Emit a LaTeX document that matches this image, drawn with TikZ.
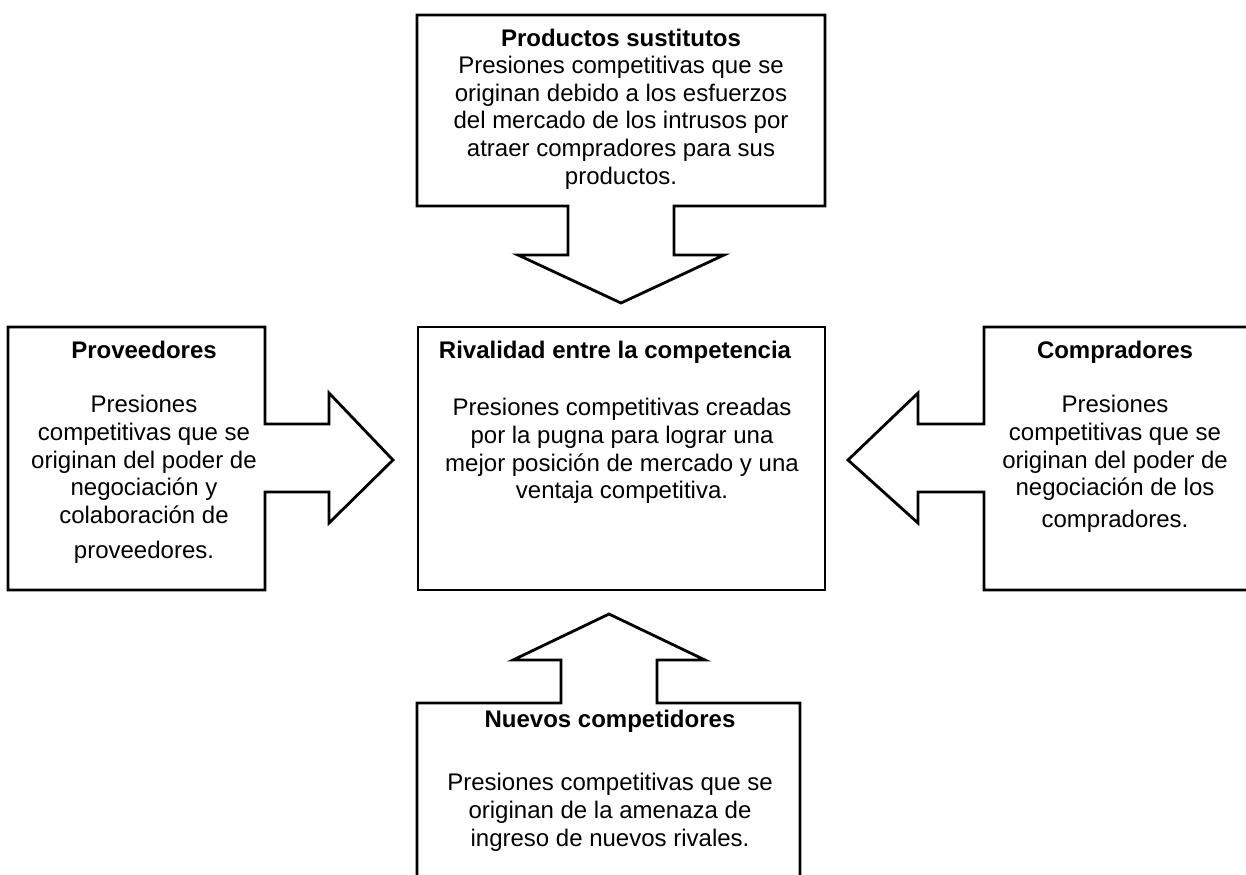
\documentclass[tikz,border=0pt]{standalone}
\usepackage{fontspec}
\setmainfont{Liberation Sans}
\usepackage{tikz}
\usetikzlibrary{positioning,calc}

\tikzset{
    fuerza/.style={draw, line width=1.4pt, fill=white, line join=miter},
    titulo/.style={font=\fontsize{12}{13.8}\selectfont\bfseries, anchor=base, inner sep=0pt},
    texto/.style={font=\fontsize{12}{13.8}\selectfont, align=center, anchor=north, inner sep=0pt}
}

\begin{document}
\begin{tikzpicture}[x=0.5pt, y=-0.5pt]
        \useasboundingbox (0,0) rectangle (1246,874);
        \clip (0,0) rectangle (1246,874);

        % Productos sustitutos (arriba)
        \draw[fuerza] (417,15) -- (825,15) -- (825,206) -- (674,206) -- (674,255) -- (724,255)
            -- (621,303) -- (518,255) -- (568,255) -- (568,206) -- (417,206) -- cycle;
        \node[titulo] (sustT) at (621,46) {Productos sustitutos};
        \node[texto] (sust) at (621,56) {Presiones competitivas que se\\originan debido a los esfuerzos\\del mercado de los intrusos por\\atraer compradores para sus\\productos.};

        % Rivalidad (centro)
        \draw[fuerza] (418,327) rectangle (825,590);
        \node[titulo] (rivT) at (615,358) {Rivalidad entre la competencia};
        \node[texto] (riv) at (622,398) {Presiones competitivas creadas\\por la pugna para lograr una\\mejor posición de mercado y una\\ventaja competitiva.};

        % Proveedores (izquierda)
        \draw[fuerza] (8,327) -- (265,327) -- (265,424) -- (329,424) -- (329,393) -- (393,460)
            -- (329,523) -- (329,492) -- (265,492) -- (265,590) -- (8,590) -- cycle;
        \node[titulo] (provT) at (144,358) {Proveedores};
        \node[texto] (prov) at (144,395) {Presiones\\competitivas que se\\originan del poder de\\negociación y\\colaboración de\\[4pt]proveedores.};

        % Compradores (derecha)
        \draw[fuerza] (1262,327) -- (984,327) -- (984,424) -- (918,424) -- (918,393) -- (848,460)
            -- (918,523) -- (918,492) -- (984,492) -- (984,590) -- (1262,590);
        \node[titulo] (compT) at (1115,358) {Compradores};
        \node[texto] (comp) at (1115,395) {Presiones\\competitivas que se\\originan del poder de\\negociación de los\\[2pt]compradores.};

        % Nuevos competidores (abajo)
        \draw[fuerza] (417,900) -- (417,703) -- (561,703) -- (561,660) -- (513,660) -- (609,614)
            -- (705,660) -- (657,660) -- (657,703) -- (800,703) -- (800,900);
        \node[titulo] (nuevT) at (610,727) {Nuevos competidores};
        \node[texto] (nuev) at (610,773) {Presiones competitivas que se\\originan de la amenaza de\\ingreso de nuevos rivales.};
    \end{tikzpicture}
\end{document}
